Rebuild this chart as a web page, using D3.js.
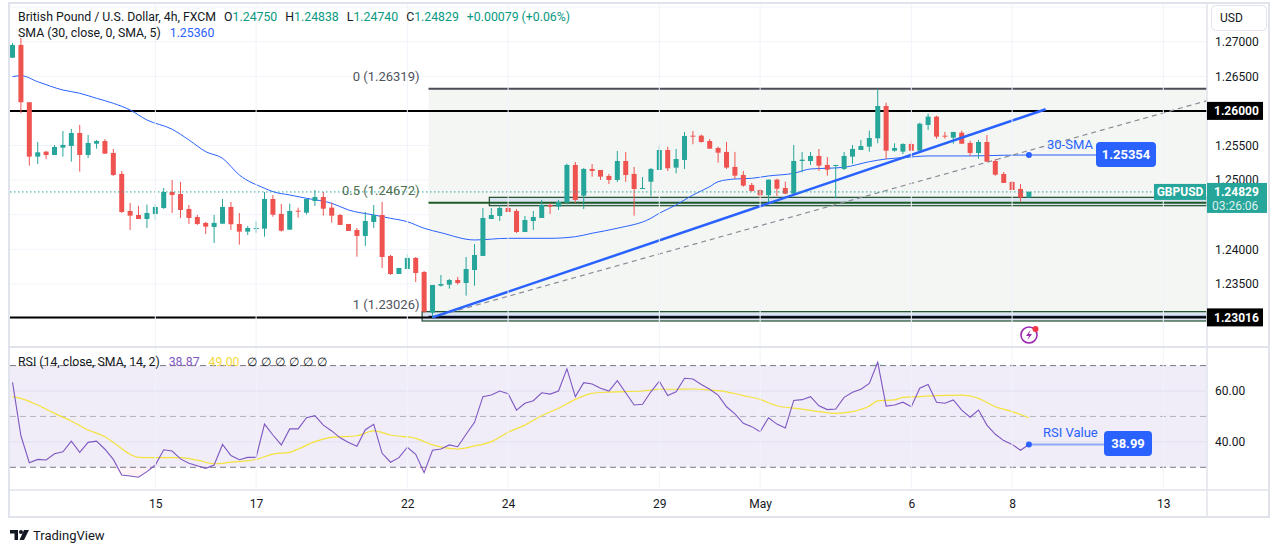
<!DOCTYPE html>
<html>
<head>
<meta charset="utf-8">
<script src="https://cdn.jsdelivr.net/npm/d3@7"></script>
<style>
  body { margin: 0; background: #fff; }
  svg { font-family: Roboto, "Noto Sans", sans-serif; }
</style>
</head>
<body>
<svg id="chart" width="1281" height="553"></svg>
<script>
// GBP/USD 4h candles (bar 0 = first visible bar)
const opens = [1.26769,1.26953,1.26125,1.25339,1.25411,1.25363,1.25469,1.25493,1.25681,1.25363,
  1.25526,1.25565,1.25392,1.25089,1.24554,1.24496,1.24438,1.24511,1.24597,1.24828,
  1.24800,1.24583,1.24467,1.24381,1.24323,1.24370,1.24612,1.24366,1.24255,1.24294,
  1.24298,1.24727,1.24511,1.24284,1.24558,1.24529,1.24698,1.24756,1.24602,1.24496,
  1.24366,1.24279,1.24193,1.24395,1.24496,1.23904,1.23643,1.23716,1.23875,1.23672,
  1.23084,1.23474,1.23489,1.23557,1.23513,1.23701,1.23904,1.24438,1.24482,1.24597,
  1.24554,1.24250,1.24409,1.24453,1.24641,1.24616,1.24674,1.25219,1.24775,1.25161,
  1.25146,1.25060,1.25002,1.25276,1.25089,1.24872,1.24977,1.25146,1.25435,1.25180,
  1.25291,1.25642,1.25642,1.25565,1.25464,1.25407,1.25190,1.25074,1.24930,1.24857,
  1.24781,1.25007,1.24886,1.24804,1.25276,1.25276,1.25349,1.25219,1.25204,1.25161,
  1.25339,1.25435,1.25483,1.25604,1.26071,1.25425,1.25411,1.25522,1.25425,1.25797,
  1.25917,1.25642,1.25613,1.25685,1.25537,1.25392,1.25551,1.25276,1.25089,1.24973,
  1.24872,1.24750];
const highs = [1.26982,1.27054,1.26125,1.25551,1.25421,1.25508,1.25710,1.25739,1.25797,1.25652,
  1.25580,1.25594,1.25450,1.25132,1.24670,1.24626,1.24645,1.24655,1.24886,1.25002,
  1.24973,1.24641,1.24496,1.24395,1.24496,1.24727,1.24684,1.24525,1.24337,1.24409,
  1.24828,1.24785,1.24655,1.24659,1.24602,1.24727,1.24857,1.24828,1.24674,1.24511,
  1.24366,1.24308,1.24539,1.24641,1.24684,1.23918,1.23730,1.23932,1.23889,1.23687,
  1.23485,1.23629,1.23571,1.23600,1.23889,1.24077,1.24597,1.24597,1.24641,1.24655,
  1.24583,1.24482,1.24554,1.24713,1.24670,1.24713,1.25237,1.25262,1.25175,1.25233,
  1.25146,1.25089,1.25421,1.25407,1.25190,1.25045,1.25175,1.25498,1.25483,1.25450,
  1.25696,1.25710,1.25657,1.25594,1.25483,1.25551,1.25407,1.25132,1.24959,1.24872,
  1.25007,1.25020,1.24977,1.25508,1.25407,1.25407,1.25450,1.25334,1.25219,1.25407,
  1.25508,1.25580,1.25714,1.26319,1.26119,1.25532,1.25532,1.25570,1.25830,1.25960,
  1.25931,1.25696,1.25696,1.25714,1.25570,1.25580,1.25652,1.25305,1.25117,1.24987,
  1.24944,1.24838];
const lows = [1.26765,1.25966,1.25209,1.25233,1.25305,1.25363,1.25339,1.25266,1.25122,1.25320,
  1.25454,1.25382,1.25060,1.24525,1.24279,1.24438,1.24308,1.24424,1.24583,1.24525,
  1.24453,1.24366,1.24352,1.24222,1.24091,1.24370,1.24279,1.24067,1.24207,1.24236,
  1.24182,1.24471,1.24255,1.24284,1.24457,1.24506,1.24626,1.24486,1.24385,1.24352,
  1.24265,1.23893,1.24048,1.24308,1.23730,1.23629,1.23643,1.23716,1.23528,1.23080,
  1.23016,1.23460,1.23431,1.23489,1.23330,1.23474,1.23904,1.24438,1.24409,1.24539,
  1.24236,1.24250,1.24279,1.24453,1.24511,1.24568,1.24674,1.24670,1.24583,1.25050,
  1.25002,1.24944,1.24973,1.24973,1.24486,1.24872,1.24761,1.25146,1.25132,1.25099,
  1.25161,1.25518,1.25541,1.25454,1.25252,1.25161,1.25016,1.24905,1.24833,1.24732,
  1.24674,1.24771,1.24795,1.24804,1.25113,1.25219,1.25132,1.25064,1.24737,1.25146,
  1.25233,1.25435,1.25411,1.25532,1.25305,1.25411,1.25377,1.25421,1.25411,1.25724,
  1.25599,1.25599,1.25526,1.25526,1.25349,1.25310,1.25266,1.25064,1.24959,1.24857,
  1.24688,1.24740];
const closes = [1.26953,1.26125,1.25339,1.25402,1.25363,1.25479,1.25508,1.25681,1.25363,1.25537,
  1.25565,1.25382,1.25074,1.24539,1.24486,1.24438,1.24525,1.24612,1.24828,1.24785,
  1.24568,1.24453,1.24366,1.24327,1.24381,1.24612,1.24362,1.24255,1.24308,1.24308,
  1.24727,1.24500,1.24269,1.24554,1.24544,1.24727,1.24756,1.24587,1.24486,1.24352,
  1.24265,1.24193,1.24409,1.24496,1.23889,1.23643,1.23730,1.23875,1.23658,1.23099,
  1.23485,1.23499,1.23557,1.23513,1.23716,1.23918,1.24453,1.24496,1.24597,1.24539,
  1.24250,1.24424,1.24467,1.24641,1.24616,1.24684,1.25219,1.24713,1.25161,1.25132,
  1.25050,1.25002,1.25276,1.25074,1.24872,1.24886,1.25161,1.25435,1.25171,1.25305,
  1.25638,1.25628,1.25551,1.25454,1.25396,1.25180,1.25064,1.24920,1.24843,1.24781,
  1.25007,1.24876,1.24804,1.25276,1.25295,1.25349,1.25209,1.25151,1.25219,1.25349,
  1.25450,1.25493,1.25609,1.26071,1.25425,1.25464,1.25522,1.25425,1.25815,1.25917,
  1.25628,1.25628,1.25696,1.25526,1.25392,1.25551,1.25266,1.25078,1.24959,1.24857,
  1.24750,1.24829];

// 30 SMA (blue), read at sample bars
const smaIdx = [0,1,3,6,8,10,12,14,16,19,21,23,25,27,30,31,33,35,38,40,43,45,47,49,51,55,59,64,67,69,
  72,76,77,79,81,83,84,86,88,90,93,95,97,99,102,104,106,109,114,118,121];
const smaVals = [1.26495,1.26509,1.26422,1.26302,1.26255,1.26182,1.26110,1.26013,1.25869,1.25735,
  1.25580,1.25411,1.25315,1.25074,1.24882,1.24833,1.24785,1.24737,1.24665,1.24568,
  1.24496,1.24448,1.24399,1.24304,1.24240,1.24135,1.24159,1.24159,1.24182,1.24232,
  1.24304,1.24448,1.24521,1.24641,1.24785,1.24905,1.24977,1.25016,1.25026,1.25060,
  1.25098,1.25161,1.25171,1.25185,1.25266,1.25305,1.25324,1.25349,1.25349,1.25359,1.25363];

// RSI (14) per bar and its SMA
const rsiVals = [63.4,42.4,31.8,33.1,32.9,35.3,36.1,40.3,35.9,39.8,40.3,37.1,33.1,27.0,26.6,26.1,28.3,30.9,36.9,36.4,
  33.3,31.6,30.6,29.6,30.9,39.0,34.6,33.0,33.9,33.9,47.0,42.7,38.8,45.1,45.1,49.5,50.3,46.6,44.3,41.6,
  39.8,38.3,44.8,46.9,35.5,32.0,33.8,37.9,35.1,27.9,36.7,37.2,38.8,38.1,43.0,47.7,57.8,58.4,60.0,58.9,
  52.5,55.2,56.2,59.3,58.8,60.0,68.7,57.8,63.3,62.8,61.1,60.0,64.1,59.3,54.5,54.8,59.7,63.9,58.2,59.7,
  65.0,64.7,62.6,60.7,58.4,53.8,51.0,47.3,46.0,44.0,49.5,47.0,45.5,56.3,56.6,57.8,54.2,52.7,52.9,57.5,
  59.5,60.7,63.0,71.3,54.1,54.5,55.6,53.8,61.1,62.6,55.6,55.2,56.5,52.5,49.7,52.5,46.6,43.0,40.5,39.0,
  36.7,38.99];
const rsiSmaIdx = [0,1,3,5,7,9,11,12,14,15,17,20,22,24,26,29,31,33,34,36,38,41,43,45,48,50,53,55,57,59,
  61,63,65,67,69,71,75,77,79,81,83,85,87,89,91,94,96,98,100,102,103,105,106,108,110,113,115,117,119,121];
const rsiSmaVals = [57.8,57.1,54.5,51.2,48.2,44.7,42.0,39.8,35.1,33.9,33.8,33.8,32.8,31.4,32.0,33.1,35.2,35.9,37.2,40.1,
  41.8,42.4,44.3,42.7,41.4,38.8,37.2,38.4,40.1,43.8,46.6,50.3,53.2,56.7,59.1,59.6,60.0,60.7,60.7,60.8,
  60.4,59.7,58.2,56.7,54.2,52.9,51.9,51.2,51.9,54.1,56.1,56.5,57.5,57.8,58.2,58.4,57.1,53.8,51.9,49.5];

// axes
const dayTicks = [17,29,47,59,77,89,107,119,137];
const dayLabels = ["15","17","22","24","29","May","6","8","13"];
const priceTicks = [1.23,1.235,1.24,1.25,1.255,1.26,1.265,1.27];
const gridPrices = [1.23,1.235,1.24,1.245,1.25,1.255,1.26,1.265,1.27,1.275];
const rsiTicks = [40,60];

// drawings
const hLevels = [1.26000, 1.23016];
const fibRatios = ["0","0.5","1"];
const fibPrices = [1.26319, 1.24672, 1.23026];
const fibStart = 50;
const zoneMid = [57, 1.24751, 1.24630];
const zoneLow = [49, 1.23099, 1.22964];
const trendStart = [50, 1.23016], trendEnd = [123, 1.26024];
const dashStart = [50, 1.23016], dashEnd = [145, 1.26242];
const lastPrice = 1.24829, smaLabel = 1.25354, rsiLabel = 38.99;

const svg = d3.select("#chart");
const plotL = 10, plotR = 1207, mainT = 4, mainB = 347, rsiT = 348, rsiB = 490, axisB = 517;

const x = d3.scaleLinear().domain([-0.3, 142.2]).range([plotL, plotR]);
const y = d3.scaleLinear().domain([1.23, 1.27]).range([318.5, 41.7]);
const yr = d3.scaleLinear().domain([30, 70]).range([467.3, 365.6]);

const defs = svg.append("defs");
defs.append("clipPath").attr("id", "mainClip").append("rect")
  .attr("x", plotL).attr("y", mainT).attr("width", plotR - plotL).attr("height", mainB - mainT);
defs.append("clipPath").attr("id", "rsiClip").append("rect")
  .attr("x", plotL).attr("y", rsiT).attr("width", plotR - plotL).attr("height", rsiB - rsiT);

svg.append("rect").attr("width", 1281).attr("height", 553).attr("fill", "#fff");

const main = svg.append("g").attr("clip-path", "url(#mainClip)");
const rsiG = svg.append("g").attr("clip-path", "url(#rsiClip)");

// grid
main.selectAll(".hg").data(gridPrices).join("line")
  .attr("x1", plotL).attr("x2", plotR).attr("y1", d => y(d)).attr("y2", d => y(d))
  .attr("stroke", "#f0f3fa").attr("stroke-width", 1);
svg.selectAll(".vg").data(dayTicks).join("line")
  .attr("x1", d => x(d)).attr("x2", d => x(d)).attr("y1", mainT).attr("y2", rsiB)
  .attr("stroke", "#f0f3fa").attr("stroke-width", 1);

// fib background
main.append("rect")
  .attr("x", x(fibStart) - 4).attr("y", y(fibPrices[0]))
  .attr("width", plotR - x(fibStart) + 4).attr("height", y(fibPrices[2]) - y(fibPrices[0]))
  .attr("fill", "#f4f6f4");

// zones
[zoneMid, zoneLow].forEach(z => {
  main.append("rect")
    .attr("x", x(z[0]) - 2).attr("y", y(z[1]))
    .attr("width", plotR - x(z[0]) + 2).attr("height", y(z[2]) - y(z[1]))
    .attr("fill", "#dbe5f1").attr("stroke", "#1e4d2b").attr("stroke-width", 1.2);
});

// fib lines
const fibColors = ["#4a4d57", "#1e5a25", "#1a2a5c"];
main.selectAll(".fib").data(fibPrices).join("line")
  .attr("x1", x(fibStart) - 4).attr("x2", plotR)
  .attr("y1", d => y(d)).attr("y2", d => y(d))
  .attr("stroke", (d, i) => fibColors[i]).attr("stroke-width", 2);
svg.selectAll(".fibtxt").data(fibPrices).join("text")
  .attr("x", x(fibStart) - 13).attr("y", d => y(d) - 8)
  .attr("text-anchor", "end").attr("font-size", 13)
  .attr("fill", (d, i) => i === 1 ? "#4d6e4f" : "#50535e")
  .text((d, i) => fibRatios[i] + " (" + d3.format(".5f")(d) + ")");

// black horizontal levels
main.selectAll(".hl").data(hLevels).join("line")
  .attr("x1", plotL).attr("x2", plotR).attr("y1", d => y(d)).attr("y2", d => y(d))
  .attr("stroke", "#000").attr("stroke-width", 2);

// SMA 30
const smaLine = d3.line().x(d => x(d[0])).y(d => y(d[1])).curve(d3.curveMonotoneX);
main.append("path").datum(smaIdx.map((d, i) => [d, smaVals[i]]))
  .attr("d", smaLine).attr("fill", "none").attr("stroke", "#2962ff").attr("stroke-width", 1);

// candles
const bars = d3.range(opens.length);
const up = "#26a69a", down = "#ef5350";
const cg = main.append("g");
cg.selectAll(".wick").data(bars).join("line")
  .attr("x1", i => x(i)).attr("x2", i => x(i))
  .attr("y1", i => y(highs[i])).attr("y2", i => y(lows[i]))
  .attr("stroke", i => closes[i] >= opens[i] ? up : down).attr("stroke-width", 1);
cg.selectAll(".body").data(bars).join("rect")
  .attr("x", i => x(i) - 2.5).attr("width", 5)
  .attr("y", i => y(Math.max(opens[i], closes[i])))
  .attr("height", i => Math.max(1, Math.abs(y(opens[i]) - y(closes[i]))))
  .attr("fill", i => closes[i] >= opens[i] ? up : down);

// trend lines
main.append("line")
  .attr("x1", x(dashStart[0])).attr("y1", y(dashStart[1]))
  .attr("x2", x(dashEnd[0])).attr("y2", y(dashEnd[1]))
  .attr("stroke", "#8a8d96").attr("stroke-width", 1.2).attr("stroke-dasharray", "5,4");
main.append("line")
  .attr("x1", x(trendStart[0])).attr("y1", y(trendStart[1]))
  .attr("x2", x(trendEnd[0])).attr("y2", y(trendEnd[1]))
  .attr("stroke", "#2962ff").attr("stroke-width", 2.5);

// current price line
main.append("line")
  .attr("x1", plotL).attr("x2", 1154).attr("y1", y(lastPrice)).attr("y2", y(lastPrice))
  .attr("stroke", up).attr("stroke-width", 1).attr("stroke-dasharray", "1.5,2.5");

// SMA annotation
const lastI = opens.length - 1;
svg.append("line").attr("x1", x(lastI)).attr("x2", 1097)
  .attr("y1", y(smaVals[smaVals.length - 1])).attr("y2", y(smaVals[smaVals.length - 1]))
  .attr("stroke", "#8fa7f5").attr("stroke-width", 2);
svg.append("circle").attr("cx", x(lastI)).attr("cy", y(smaVals[smaVals.length - 1])).attr("r", 3).attr("fill", "#2962ff");
svg.append("text").attr("x", 1047).attr("y", 149).attr("font-size", 13).attr("fill", "#2962ff").text("30-SMA");
svg.append("rect").attr("x", 1096).attr("y", 142).attr("width", 60).attr("height", 25).attr("rx", 4).attr("fill", "#2962ff");
svg.append("text").attr("x", 1126).attr("y", 159).attr("text-anchor", "middle").attr("font-size", 13)
  .attr("font-weight", "bold").attr("fill", "#fff").text(d3.format(".5f")(smaLabel));

// lightning icon
const icon = svg.append("g").attr("transform", "translate(1029,335)");
icon.append("circle").attr("r", 8).attr("fill", "#fff").attr("stroke", "#9c27b0").attr("stroke-width", 1.6);
icon.append("path").attr("d", "M1.5,-5 L-3,1 L0,1 L-1.5,5 L3,-1 L0,-1 Z").attr("fill", "#9c27b0");
icon.append("circle").attr("cx", 6.5).attr("cy", -6).attr("r", 3).attr("fill", "#f23645");

// ---- RSI pane ----
rsiG.append("rect").attr("x", plotL).attr("width", plotR - plotL)
  .attr("y", yr(70)).attr("height", yr(30) - yr(70)).attr("fill", "#f0ecf8");
rsiG.selectAll(".rg").data(rsiTicks).join("line")
  .attr("x1", plotL).attr("x2", plotR).attr("y1", d => yr(d)).attr("y2", d => yr(d))
  .attr("stroke", "#e3dff0").attr("stroke-width", 1);
rsiG.selectAll(".rb").data([70, 50, 30]).join("line")
  .attr("x1", plotL).attr("x2", plotR).attr("y1", d => yr(d)).attr("y2", d => yr(d))
  .attr("stroke", d => d === 50 ? "#b2b5be" : "#787b86").attr("stroke-width", 1)
  .attr("stroke-dasharray", "6,4");

const rsiPts = rsiVals.map((v, i) => [i, v]);
rsiG.append("path").datum(rsiPts)
  .attr("d", d3.area().x(d => x(d[0])).y0(yr(30)).y1(d => yr(Math.min(d[1], 30))))
  .attr("fill", "rgba(242,54,69,0.06)");
rsiG.append("path").datum(rsiPts)
  .attr("d", d3.area().x(d => x(d[0])).y0(yr(70)).y1(d => yr(Math.max(d[1], 70))))
  .attr("fill", "rgba(8,153,129,0.1)");
rsiG.append("path").datum(rsiSmaIdx.map((d, i) => [d, rsiSmaVals[i]]))
  .attr("d", d3.line().x(d => x(d[0])).y(d => yr(d[1])).curve(d3.curveMonotoneX))
  .attr("fill", "none").attr("stroke", "#f5e23b").attr("stroke-width", 1.2);
rsiG.append("path").datum(rsiPts)
  .attr("d", d3.line().x(d => x(d[0])).y(d => yr(d[1])))
  .attr("fill", "none").attr("stroke", "#7e57c2").attr("stroke-width", 1.1);

svg.append("line").attr("x1", x(lastI)).attr("x2", 1105)
  .attr("y1", yr(rsiLabel)).attr("y2", yr(rsiLabel)).attr("stroke", "#8fa7f5").attr("stroke-width", 2);
svg.append("circle").attr("cx", x(lastI)).attr("cy", yr(rsiLabel)).attr("r", 3).attr("fill", "#2962ff");
svg.append("text").attr("x", 1043).attr("y", 437).attr("font-size", 13).attr("fill", "#2962ff").text("RSI Value");
svg.append("rect").attr("x", 1104).attr("y", 431).attr("width", 48).attr("height", 25).attr("rx", 4).attr("fill", "#2962ff");
svg.append("text").attr("x", 1128).attr("y", 448).attr("text-anchor", "middle").attr("font-size", 13)
  .attr("font-weight", "bold").attr("fill", "#fff").text(d3.format(".2f")(rsiLabel));

// ---- frame & separators ----
svg.append("line").attr("x1", plotL).attr("x2", 1269).attr("y1", mainB).attr("y2", mainB).attr("stroke", "#e0e3eb").attr("stroke-width", 2);
svg.append("line").attr("x1", plotL).attr("x2", 1269).attr("y1", rsiB).attr("y2", rsiB).attr("stroke", "#e0e3eb").attr("stroke-width", 1.5);
svg.append("line").attr("x1", plotR).attr("x2", plotR).attr("y1", 3).attr("y2", axisB).attr("stroke", "#e0e3eb").attr("stroke-width", 1.5);
svg.append("rect").attr("x", 9).attr("y", 3).attr("width", 1260).attr("height", axisB - 3)
  .attr("fill", "none").attr("stroke", "#e0e3eb").attr("stroke-width", 2);

// ---- axes ----
const styleAxis = g => {
  g.select(".domain").remove();
  g.selectAll("text").attr("font-size", 12).attr("fill", "#131722").attr("font-family", "Roboto, sans-serif");
};
svg.append("g").attr("transform", `translate(${plotR},0)`)
  .call(d3.axisRight(y).tickValues(priceTicks).tickFormat(d3.format(".5f")).tickSize(0).tickPadding(8))
  .call(styleAxis);
svg.append("g").attr("transform", `translate(${plotR},0)`)
  .call(d3.axisRight(yr).tickValues(rsiTicks).tickFormat(d3.format(".2f")).tickSize(0).tickPadding(8))
  .call(styleAxis);
svg.append("g").attr("transform", `translate(0,${rsiB})`)
  .call(d3.axisBottom(x).tickValues(dayTicks).tickFormat((d, i) => dayLabels[i]).tickSize(0).tickPadding(9))
  .call(styleAxis);

// USD box
svg.append("rect").attr("x", 1211.5).attr("y", 5.5).attr("width", 55).attr("height", 25).attr("rx", 4)
  .attr("fill", "#fff").attr("stroke", "#e0e3eb");
svg.append("text").attr("x", 1220).attr("y", 22).attr("font-size", 12).attr("fill", "#131722").text("USD");

// axis tags
hLevels.forEach(p => {
  svg.append("rect").attr("x", plotR).attr("y", y(p) - 9).attr("width", 56).attr("height", 18).attr("fill", "#000");
  svg.append("text").attr("x", plotR + 7).attr("y", y(p) + 4.5).attr("font-size", 12)
    .attr("font-weight", "bold").attr("fill", "#fff").text(d3.format(".5f")(p));
});
svg.append("rect").attr("x", 1154).attr("y", y(lastPrice) - 8).attr("width", 52).attr("height", 16).attr("fill", up);
svg.append("text").attr("x", 1180).attr("y", y(lastPrice) + 4.5).attr("text-anchor", "middle").attr("font-size", 12)
  .attr("font-weight", "bold").attr("fill", "#fff").text("GBPUSD");
svg.append("rect").attr("x", plotR).attr("y", y(lastPrice) - 9).attr("width", 60).attr("height", 30).attr("fill", up);
svg.append("text").attr("x", plotR + 7).attr("y", y(lastPrice) + 4.5).attr("font-size", 12)
  .attr("font-weight", "bold").attr("fill", "#fff").text(d3.format(".5f")(lastPrice));
svg.append("text").attr("x", plotR + 5).attr("y", y(lastPrice) + 18).attr("font-size", 12)
  .attr("fill", "rgba(255,255,255,0.85)").text("03:26:06");

// ---- legends ----
const leg = svg.append("text").attr("x", 18).attr("y", 21).attr("font-size", 12.3).attr("fill", "#131722");
leg.append("tspan").text("British Pound / U.S. Dollar, 4h, FXCM");
[["O", opens[lastI]], ["H", highs[lastI]], ["L", lows[lastI]], ["C", closes[lastI]]].forEach(d => {
  leg.append("tspan").attr("dx", 8).text(d[0]);
  leg.append("tspan").attr("fill", "#089981").text(d3.format(".5f")(d[1]));
});
leg.append("tspan").attr("dx", 8).attr("fill", "#089981").text("+0.00079 (+0.06%)");

const leg2 = svg.append("text").attr("x", 18).attr("y", 37).attr("font-size", 12.3).attr("fill", "#131722");
leg2.append("tspan").text("SMA (30, close, 0, SMA, 5)");
leg2.append("tspan").attr("dx", 9).attr("fill", "#2962ff").text("1.25360");

const leg3 = svg.append("text").attr("x", 18).attr("y", 366).attr("font-size", 12.3).attr("fill", "#131722");
leg3.append("tspan").text("RSI (14, close, SMA, 14, 2)");
leg3.append("tspan").attr("dx", 9).attr("fill", "#7e57c2").text("38.87");
leg3.append("tspan").attr("dx", 9).attr("fill", "#f5d93a").text("49.00");
d3.range(6).forEach(k => leg3.append("tspan").attr("dx", k === 0 ? 8 : 4).text("∅"));

// TradingView footer
const logo = svg.append("g").attr("transform", "translate(10,530)").attr("fill", "#131722");
logo.append("path").attr("d", "M0,0 H8 V10 H4.5 V3.5 H0 Z");
logo.append("circle").attr("cx", 11).attr("cy", 2).attr("r", 2);
logo.append("path").attr("d", "M14,0 H19 L14,10 H9.5 Z");
svg.append("text").attr("x", 33).attr("y", 540).attr("font-size", 13).attr("fill", "#131722").text("TradingView");
</script>
</body>
</html>
